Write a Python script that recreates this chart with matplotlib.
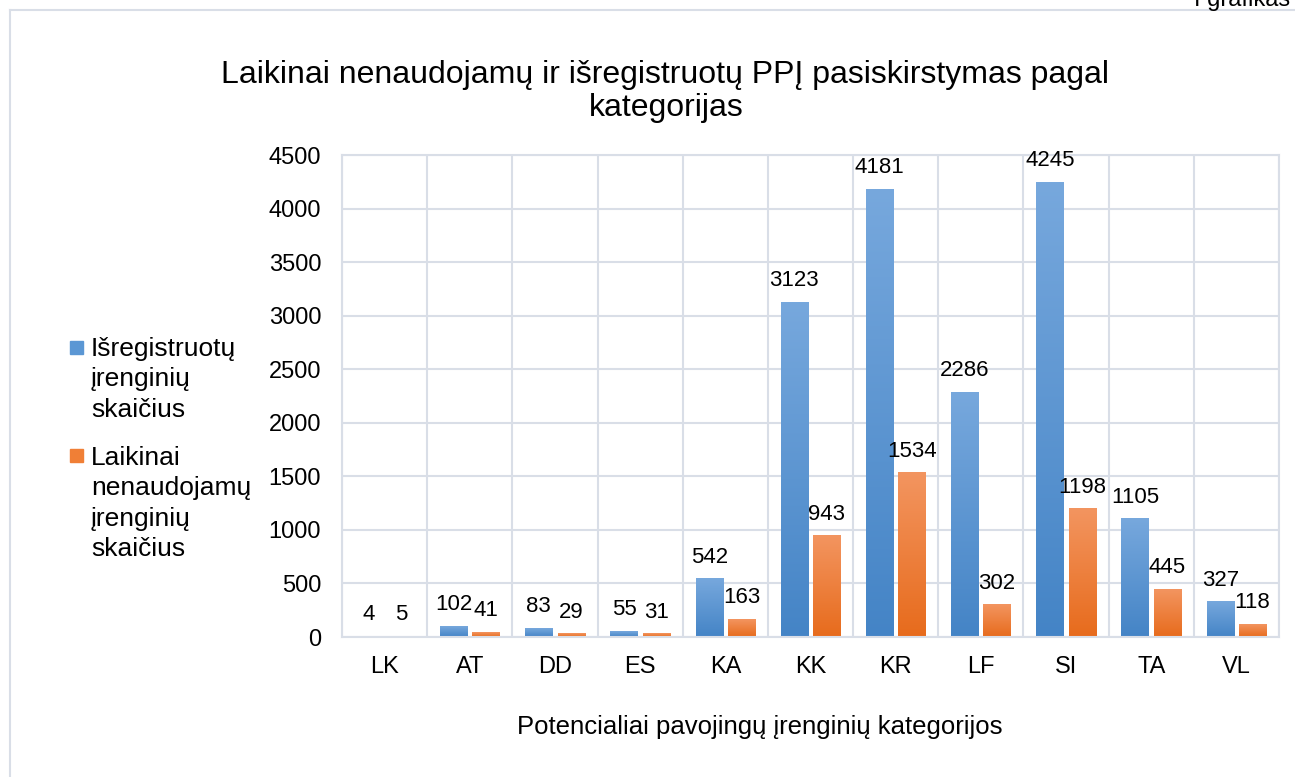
import numpy as np
import matplotlib.pyplot as plt
from matplotlib.colors import LinearSegmentedColormap
from matplotlib.patches import Rectangle
from matplotlib.lines import Line2D

plt.rcParams['font.family'] = ['Liberation Sans', 'DejaVu Sans']

categories = ["LK", "AT", "DD", "ES", "KA", "KK", "KR", "LF", "SI", "TA", "VL"]
isregistruota = [4, 102, 83, 55, 542, 3123, 4181, 2286, 4245, 1105, 327]
laikinai = [5, 41, 29, 31, 163, 943, 1534, 302, 1198, 445, 118]

label_blue = ["Išregistruotų", "įrenginių", "skaičius"]
label_orange = ["Laikinai", "nenaudojamų", "įrenginių", "skaičius"]

blue_cmap = LinearSegmentedColormap.from_list("b", ["#4484C6", "#77A8DD"])
orange_cmap = LinearSegmentedColormap.from_list("o", ["#E76B1C", "#F39560"])
grid_col = "#D9DEE7"

W, H = 1295, 777
fig = plt.figure(figsize=(W / 100, H / 100), dpi=100)
ax = fig.add_axes([342 / W, 1 - 637 / H, (1279 - 342) / W, (637 - 155) / H])

x = np.arange(len(categories))
w = 0.32
off = 0.19
grad = np.linspace(0, 1, 256).reshape(-1, 1)

for vals, dx, cmap in [(isregistruota, -off, blue_cmap), (laikinai, off, orange_cmap)]:
    bars = ax.bar(x + dx, vals, width=w, color="none", zorder=2)
    for b, v in zip(bars, vals):
        x0, y0 = b.get_x(), b.get_y()
        ax.imshow(grad, extent=[x0, x0 + b.get_width(), y0, y0 + b.get_height()],
                  origin="lower", aspect="auto", cmap=cmap, zorder=2)
        ax.annotate(str(v), (x0 + b.get_width() / 2, v), xytext=(0, 8),
                    textcoords="offset points", ha="center", va="bottom",
                    fontsize=16, color="black", zorder=3)

ax.set_xlim(-0.5, len(categories) - 0.5)
ax.set_ylim(0, 4500)
ax.set_yticks(np.arange(0, 4501, 500))
ax.set_xticks(x)
ax.set_xticklabels(categories)
ax.set_xticks(np.arange(-0.5, len(categories), 1), minor=True)
ax.tick_params(axis="both", which="both", length=0, labelsize=17, colors="black")
ax.tick_params(axis="x", pad=14)
ax.tick_params(axis="y", pad=15)
ax.grid(True, axis="y", color=grid_col, linewidth=1.5, zorder=0)
ax.grid(True, axis="x", which="minor", color=grid_col, linewidth=1.5, zorder=0)
ax.set_axisbelow(True)
for s in ax.spines.values():
    s.set_color(grid_col)
    s.set_linewidth(1.5)

fig.text(665 / W, 1 - 75 / H, "Laikinai nenaudojamų ir išregistruotų PPĮ pasiskirstymas pagal",
         ha="center", va="center", fontsize=23)
fig.text(666 / W, 1 - 108 / H, "kategorijas", ha="center", va="center", fontsize=23)
fig.text(760 / W, 1 - 727 / H, "Potencialiai pavojingų įrenginių kategorijos",
         ha="center", va="center", fontsize=18.5)

# legend drawn by hand to keep the square next to the first line
for lines, sq_top, base0, col in [(label_blue, 341, 356, "#5B97D4"),
                                  (label_orange, 449, 465, "#F07F36")]:
    fig.patches.append(Rectangle((70 / W, 1 - (sq_top + 13) / H), 13 / W, 13 / H,
                                 transform=fig.transFigure, color=col))
    for i, t in enumerate(lines):
        fig.text(91 / W, 1 - (base0 + 30.5 * i) / H, t, ha="left", va="baseline", fontsize=19)

# chart frame
fig.lines.append(Line2D([10 / W, 10 / W], [0, 1 - 10 / H], transform=fig.transFigure,
                        color=grid_col, linewidth=1.5))
fig.lines.append(Line2D([10 / W, 1], [1 - 10 / H, 1 - 10 / H], transform=fig.transFigure,
                        color=grid_col, linewidth=1.5))
fig.text(1290 / W, 1 - 6 / H, "I grafikas", ha="right", va="baseline", fontsize=17)

fig.savefig("out.png", dpi=100)
